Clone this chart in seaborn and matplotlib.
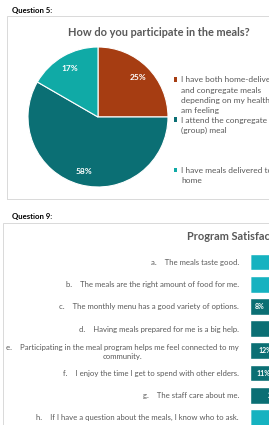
"""
Survey result charts: meal participation (pie) and program satisfaction (stacked bars)
"""

import matplotlib
matplotlib.use("Agg")
import matplotlib.pyplot as plt
from matplotlib.patches import Patch, Rectangle
import pandas as pd
import seaborn as sns

sns.set_theme(style="white")
plt.rcParams["font.family"] = ["Lato", "DejaVu Sans"]

# ──────────────────────────────────────────────
# data
# ──────────────────────────────────────────────
q5_labels = [
    "I have both home-delivered\nand congregate meals\ndepending on my health\nam feeling",
    "I attend the congregate\n(group) meal",
    "I have meals delivered to\nhome",
]
q5_counts = [3, 7, 2]

q9_items = [
    "a.    The meals taste good.",
    "b.    The meals are the right amount of food for me.",
    "c.    The monthly menu has a good variety of options.",
    "d.    Having meals prepared for me is a big help.",
    "e.    Participating in the meal program helps me feel connected to my\ncommunity.",
    "f.    I enjoy the time I get to spend with other elders.",
    "g.    The staff care about me.",
    "h.    If I have a question about the meals, I know who to ask.",
]
q9_dark = [0, 0, 8, 22, 12, 11, 20, 0]
q9_light = [100, 100, 92, 78, 88, 89, 80, 100]

RUST = "#A63D12"
DARK = "#0B6F74"
TEAL = "#10AAA6"
CYAN = "#16B2C0"
GREY = "#595959"

W, H = 269, 425


def fx(px):
    return px / W


def fy(py):
    return 1 - py / H


fig = plt.figure(figsize=(W / 100, H / 100), dpi=100)
fig.patch.set_facecolor("white")

# chart frames
fig.add_artist(Rectangle((fx(7), fy(199)), fx(300), 183 / H, transform=fig.transFigure,
                         fill=False, edgecolor="#D9D9D9", lw=0.7))
fig.add_artist(Rectangle((fx(3), fy(460)), fx(300), 237 / H, transform=fig.transFigure,
                         fill=False, edgecolor="#D9D9D9", lw=0.7))

fig.text(fx(12), fy(10), "Question 5:", fontsize=5.6, fontweight="bold", color="black", va="center")
fig.text(fx(12), fy(217), "Question 9:", fontsize=5.6, fontweight="bold", color="black", va="center")

# ──────────────────────────────────────────────
# Question 5: pie
# ──────────────────────────────────────────────
fig.text(fx(159), fy(32), "How do you participate in the meals?", fontsize=7.9, fontweight="bold",
         color=GREY, ha="center", va="center")

ax1 = fig.add_axes([fx(28), fy(187), 140 / W, 140 / H])
wedges, _, autotexts = ax1.pie(
    q5_counts, colors=[RUST, DARK, TEAL], startangle=90, counterclock=False,
    autopct="%.0f%%", pctdistance=0.8,
    wedgeprops=dict(edgecolor="white", linewidth=0.8),
    textprops=dict(color="white", fontsize=6, fontweight="bold"),
)
ax1.set_xlim(-1.0, 1.0)
ax1.set_ylim(-1.0, 1.0)

# legend: one entry per text line so markers sit on the first line (Excel style)
blank = Patch(facecolor="none", edgecolor="none")
handles, labels = [], []
for i, (w, lab) in enumerate(zip(wedges, q5_labels)):
    lines = lab.split("\n")
    for j, line in enumerate(lines):
        handles.append(w if j == 0 else blank)
        labels.append(line)
    if i == 1:
        for _ in range(3):
            handles.append(blank)
            labels.append(" ")
leg = fig.legend(handles, labels, loc="upper left", bbox_to_anchor=(fx(173.5), fy(76.5)),
                 bbox_transform=fig.transFigure, frameon=False, fontsize=6,
                 handlelength=0.4, handleheight=0.4, handletextpad=0.55,
                 labelspacing=0.36, borderpad=0, borderaxespad=0)
for t in leg.get_texts():
    t.set_color(GREY)
for h in leg.legend_handles:
    h.set_edgecolor("none")

# ──────────────────────────────────────────────
# Question 9: stacked bars
# ──────────────────────────────────────────────
fig.text(fx(187), fy(237), "Program Satisfaction", fontsize=7.9, fontweight="bold",
         color=GREY, ha="left", va="center")

df = pd.DataFrame({"item": q9_items, "dark": q9_dark, "light": q9_light})
df["total"] = df["dark"] + df["light"]

pitch = 22.2
top = 262 - pitch / 2
ax2 = fig.add_axes([fx(250), fy(top + pitch * 8), 250 / W, pitch * 8 / H])
sns.barplot(data=df, y="item", x="total", color=CYAN, orient="h", width=0.75,
            saturation=1, errorbar=None, ax=ax2)
sns.barplot(data=df, y="item", x="dark", color=DARK, orient="h", width=0.75,
            saturation=1, errorbar=None, ax=ax2)
ax2.bar_label(ax2.containers[1], labels=[f"{v}%" if v else "" for v in q9_dark],
              label_type="center", color="white", fontsize=5, fontweight="bold")
ax2.set_xlim(0, 100)
ax2.set_ylim(7.5, -0.5)
ax2.set_xlabel("")
ax2.set_ylabel("")
ax2.set_xticks([])
ax2.tick_params(axis="y", length=0, pad=8, labelsize=5.6, labelcolor=GREY)
for lbl in ax2.get_yticklabels():
    lbl.set_multialignment("center")
sns.despine(ax=ax2, left=True, bottom=True)

fig.savefig("out.png", dpi=100)
plt.close(fig)
